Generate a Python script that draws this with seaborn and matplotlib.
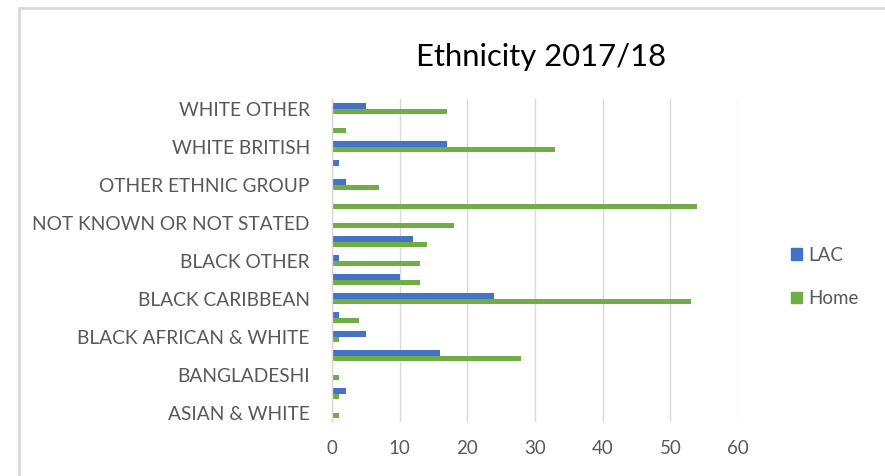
import matplotlib
matplotlib.use("Agg")
import matplotlib.pyplot as plt
import matplotlib.patches as mpatches
import pandas as pd
import seaborn as sns

# Categories listed top to bottom as they appear on the chart
categories = [
    "WHITE OTHER", "WHITE IRISH", "WHITE BRITISH", "PAKISTANI",
    "OTHER ETHNIC GROUP", "OTHER ASIAN", "NOT KNOWN OR NOT STATED",
    "MIXED OTHER", "BLACK OTHER", "BLACK CARIBBEAN & WHITE",
    "BLACK CARIBBEAN", "BLACK BRITISH", "BLACK AFRICAN & WHITE",
    "BLACK AFRICAN", "BANGLADESHI", "ASIAN OTHER", "ASIAN & WHITE",
]
lac = [5, 0, 17, 1, 2, 0, 0, 12, 1, 10, 24, 1, 5, 16, 0, 2, 0]
home = [17, 2, 33, 0, 7, 54, 18, 14, 13, 13, 53, 4, 1, 28, 1, 1, 1]
series_names = ["LAC", "Home"]
series_colors = ["#4472C4", "#70AD47"]
x_ticks = [0, 10, 20, 30, 40, 50, 60]

df = pd.DataFrame({
    "category": categories * 2,
    "value": lac + home,
    "series": [series_names[0]] * len(categories) + [series_names[1]] * len(categories),
})

sns.set_theme(style="white")
plt.rcParams["font.family"] = ["Lato", "DejaVu Sans"]

W, H = 885, 476
fig = plt.figure(figsize=(W / 100, H / 100), dpi=100)
fig.patch.set_facecolor("white")

# Light chart-area frame, running off the right and bottom edges
fig.patches.append(mpatches.Rectangle(
    (19 / W, -0.1), 1.2, 1 - 8 / H + 0.1, transform=fig.transFigure,
    fill=False, edgecolor="#D9D9D9", linewidth=2, zorder=0))

ax = fig.add_axes([332 / W, 1 - 422 / H, (738 - 332) / W, (422 - 99.5) / H])
sns.barplot(data=df, y="category", x="value", hue="series",
            order=categories, hue_order=series_names,
            palette=series_colors, orient="y", width=0.58, gap=0,
            linewidth=0, saturation=1, ax=ax)

ax.set_xlim(0, 60)
ax.set_ylim(len(categories) - 0.5, -0.5)
ax.set_xticks(x_ticks)
ax.set_xticklabels([str(t) for t in x_ticks])
ax.set_yticks(range(len(categories)))
ax.set_yticklabels([c if i % 2 == 0 else "" for i, c in enumerate(categories)])
ax.grid(axis="x", color="#D9D9D9", linewidth=1)
ax.set_axisbelow(True)
for side in ["top", "right", "bottom"]:
    ax.spines[side].set_visible(False)
ax.spines["left"].set_color("#D9D9D9")
ax.spines["left"].set_linewidth(1)
ax.tick_params(axis="y", length=0, pad=16, labelsize=13.8, labelcolor="#595959")
ax.tick_params(axis="x", length=0, pad=13, labelsize=13.5, labelcolor="#595959")
ax.set_xlabel("")
ax.set_ylabel("")

handles = [mpatches.Patch(color=c) for c in series_colors]
ax.get_legend().remove()
fig.legend(handles, series_names, loc="center left",
           bbox_to_anchor=(774 / W, 1 - 277 / H), frameon=False,
           fontsize=13.5, labelcolor="#595959", handlelength=0.6,
           handleheight=0.6, handletextpad=0.3, labelspacing=1.4)

fig.text(541 / W, 1 - 57 / H, "Ethnicity 2017/18", ha="center", va="center",
         fontsize=22.3, color="#000000")

fig.savefig("out.png", dpi=100)
